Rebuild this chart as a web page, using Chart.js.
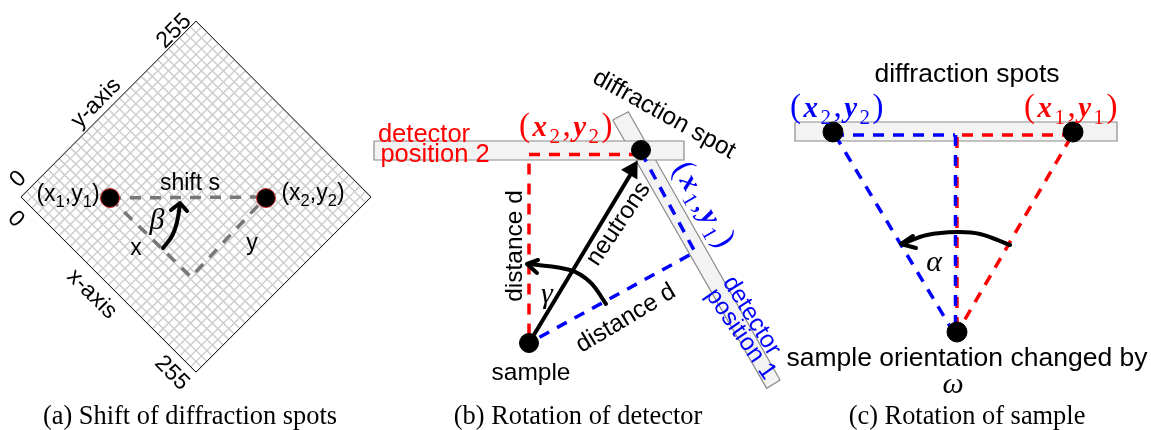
<!DOCTYPE html>
<html lang="en">
<head>
<meta charset="UTF-8">
<title>Diffraction spot geometry</title>
<script src="https://cdn.jsdelivr.net/npm/chart.js"></script>
<style>
    body { margin: 0; background: #fff; }
    #fig { display: block; }
</style>
</head>
<body>
<canvas id="fig" width="1151" height="430"></canvas>
<script>
// all marks are given in the figure's own coordinates (x 0-1151, y 0-430 downwards)

// (a) detector grid, ticks in detector pixels 0-255
const gridTicks = [0, 8, 15.9, 23.9, 31.9, 39.8, 47.8, 55.8, 63.8, 71.7, 79.7, 87.7, 95.6, 103.6, 111.6, 119.5,
    127.5, 135.5, 143.4, 151.4, 159.4, 167.3, 175.3, 183.3, 191.3, 199.2, 207.2, 215.2, 223.1, 231.1, 239.1, 247, 255];
const gridOutline = [[21, 197], [196, 21], [371, 197], [196, 372], [21, 197]];
const shiftLine = [[110, 198], [266, 197]];
const xyLegs = [[110, 198], [191, 277], [266, 197]];
const betaArc = [[163, 248], [172, 236], [177, 222], [180, 204]];
const betaHead = [[171, 210], [180, 203], [187, 211]];
const spotsA = [[110, 198], [266, 198]];

// (b) rotation of detector
const detector2 = [[374, 150.5], [684, 150.5]];
const detector2Box = [[374, 141], [684, 141], [684, 160], [374, 160], [374, 141]];
const detector1 = [[620.5, 116], [773.3, 384]];
const detector1Box = [[612.7, 120], [628.3, 111.7], [780, 380], [766.7, 388.3], [612.7, 120]];
const redPathB = [[640, 154.5], [529, 154.5], [529, 340]];
const bluePathB = [[641, 152], [695, 252], [529, 343]];
const neutronBeam = [[529, 343], [632, 172]];
const neutronHead = [[632, 170]];
const gammaArc = [[606, 304], [590, 282], [570, 270], [529, 264]];
const gammaHead = [[538, 260], [527, 264], [537, 273]];
const spotsB = [[641, 150], [529, 343]];

// (c) rotation of sample
const detector3 = [[795, 131.5], [1117, 131.5]];
const detector3Box = [[795, 122], [1117, 122], [1117, 141], [795, 141], [795, 122]];
const redArm = [[1073, 135], [957, 135]];
const redVert = [[957, 137], [957, 328]];
const redSlant = [[1071, 137], [960, 328]];
const blueArm = [[833, 135], [955, 135]];
const blueVert = [[955.5, 135], [955.5, 328]];
const blueSlant = [[835, 135], [951, 328]];
const alphaArc = [[1010, 245], [980, 234], [957, 232], [927, 235], [902, 244]];
const alphaHead = [[913, 236], [901, 244], [916, 248]];
const spotsC = [[833, 132], [1073, 132], [957, 332]];

// label texts, "_" puts the next character in subscript
const labelTexts = ['255', 'y-axis', '0', '0', 'x-axis', '255', '(x_1,y_1)', '(x_2,y_2)', 'shift s', 'β', 'x', 'y',
    'detector', 'position 2', '(x_2,y_2)', 'diffraction spot', '(x_1,y_1)', 'distance d', 'neutrons', 'γ',
    'distance d', 'sample', 'detector', 'position 1',
    'diffraction spots', '(x_2,y_2)', '(x_1,y_1)', 'α', 'sample orientation changed by', 'ω',
    '(a) Shift of diffraction spots', '(b) Rotation of detector', '(c) Rotation of sample'];
const labelX = [173, 95, 17, 17, 93, 173, 68, 313, 190, 157, 136, 252,
    424, 435, 567, 665, 705, 513, 617, 547, 625, 531, 753, 742,
    967, 838, 1072, 934, 967, 953,
    190, 578, 967];
const labelY = [30, 102, 178, 218, 293, 372, 193, 192, 182, 218, 247, 242,
    133, 153, 126, 113, 205, 246, 223, 292, 317, 371, 315, 333,
    73, 107, 107, 260, 357, 382,
    415, 415, 415];
const labelAngle = [-45, -45, -45, 45, 45, 45, 0, 0, 0, 0, 0, 0,
    0, 0, 0, 29, 60, -90, -56, 0, -31, 0, 58, 55,
    0, 0, 0, 0, 0, 0,
    0, 0, 0];
const labelStyle = ['axis', 'axis', 'axis', 'axis', 'axis', 'axis', 'axis', 'axis', 'axis', 'greek', 'axis', 'axis',
    'red', 'red', 'redMath', 'sans', 'blueMath', 'sans', 'sans', 'greek', 'sans', 'sans', 'blue', 'blue',
    'wide', 'blueMath', 'redMath', 'greek', 'wide', 'greek',
    'caption', 'caption', 'caption'];

const textStyles = {
    axis: { font: '23px "Liberation Sans"', color: '#000' },
    sans: { font: '24.5px "Liberation Sans"', color: '#000' },
    wide: { font: '26.5px "Liberation Sans"', color: '#000' },
    red: { font: '25.5px "Liberation Sans"', color: '#f00' },
    blue: { font: '24.5px "Liberation Sans"', color: '#00f' },
    redMath: { font: 'italic 700 29px "Liberation Serif"', paren: '33px "Liberation Serif"', sub: '21px "Liberation Serif"', gap: 2.5, color: '#f00' },
    blueMath: { font: 'italic 700 29px "Liberation Serif"', paren: '33px "Liberation Serif"', sub: '21px "Liberation Serif"', gap: 2.5, color: '#00f' },
    greek: { font: 'italic 30px "Liberation Serif"', color: '#000' },
    caption: { font: '26.4px "Liberation Serif"', color: '#000' }
};

const GREY = '#777777';
const line = (data, color, width, extra) => Object.assign(
    { data, showLine: true, borderColor: color, borderWidth: width, pointRadius: 0, fill: false }, extra);
const dashed = (data, color) => line(data, color, 3.5, { borderDash: [11, 9] });
const dots = (data, radius, ring) => ({
    data, showLine: false, pointRadius: radius, pointBackgroundColor: '#000',
    pointBorderColor: ring, pointBorderWidth: 1
});
const curve = (data) => line(data, '#000', 4, { tension: 0.4, borderCapStyle: 'round' });
const head = (data) => line(data, '#000', 4, { borderCapStyle: 'round', borderJoinStyle: 'round' });
const bar = (data, box, width) => [
    line(data, '#f3f3f3', width, {}),
    line(box, '#8a8a8a', 1.2, {})
];

// diamond grid: pixel ticks mapped onto the rotated detector
const toFigure = (a, b) => [21 + (a + b) * 175 / 255, 197 + (a - b) * 175.5 / 255];
const gridLines = [];
gridTicks.forEach(t => {
    gridLines.push(line([toFigure(t, 0), toFigure(t, 255)], '#cfcfcf', 1.5, {}));
    gridLines.push(line([toFigure(0, t), toFigure(255, t)], '#cfcfcf', 1.5, {}));
});

// listed bottom layer first
const layers = [
    ...gridLines,
    line(gridOutline, '#222', 1, {}),
    dashed(shiftLine, GREY), dashed(xyLegs, GREY),
    curve(betaArc), head(betaHead),
    dots(spotsA, 9.5, '#c33'),

    ...bar(detector1, detector1Box, 17), ...bar(detector2, detector2Box, 19),
    dashed(redPathB, '#f00'), dashed(bluePathB, '#00f'),
    line(neutronBeam, '#000', 4, {}),
    { data: neutronHead, showLine: false, pointStyle: 'triangle', pointRadius: 11, pointRotation: 31,
      pointBackgroundColor: '#000', pointBorderWidth: 0 },
    curve(gammaArc), head(gammaHead),
    dots(spotsB, 9.5, '#000'),

    ...bar(detector3, detector3Box, 19),
    dashed(redVert, '#f00'), dashed(blueVert, '#00f'),
    dashed(redArm, '#f00'), dashed(redSlant, '#f00'),
    dashed(blueArm, '#00f'), dashed(blueSlant, '#00f'),
    curve(alphaArc), head(alphaHead),
    dots(spotsC, 10, '#000')
];
layers.forEach((d, i) => { d.order = layers.length - i; });

// text runs along the baseline, "_" gives a subscript
function drawLabel(ctx, text, style) {
    const size = parseFloat(style.font.match(/([\d.]+)px/)[1]);
    const subFont = style.sub || style.font.replace(/[\d.]+px/, (size * 0.72) + 'px');
    ctx.fillStyle = style.color;
    ctx.textBaseline = 'alphabetic';
    ctx.textAlign = 'left';
    ctx.font = style.font;
    if (!text.includes('_')) {
        const w = ctx.measureText(text).width;
        ctx.fillText(text, -w / 2, size * 0.35);
        return;
    }
    const runs = [];
    for (let i = 0; i < text.length; i++) {
        if (text[i] === '_') { runs.push([text[i + 1], subFont, size * 0.24]); i++; }
        else if (style.paren && '(),'.includes(text[i])) { runs.push([text[i], style.paren, 0]); }
        else { runs.push([text[i], style.font, 0]); }
    }
    const gap = style.gap || 0;
    let total = 0;
    runs.forEach(([ch, font]) => { ctx.font = font; total += ctx.measureText(ch).width + gap; });
    let x = -total / 2;
    runs.forEach(([ch, font, drop]) => {
        ctx.font = font;
        ctx.fillText(ch, x, size * 0.35 + drop);
        x += ctx.measureText(ch).width + gap;
    });
}

const labelPlugin = {
    id: 'figureLabels',
    afterDatasetsDraw(chart) {
        const { ctx, scales } = chart;
        labelTexts.forEach((text, i) => {
            ctx.save();
            ctx.translate(scales.x.getPixelForValue(labelX[i]), scales.y.getPixelForValue(labelY[i]));
            ctx.rotate(labelAngle[i] * Math.PI / 180);
            drawLabel(ctx, text, textStyles[labelStyle[i]]);
            ctx.restore();
        });
    }
};

new Chart(document.getElementById('fig').getContext('2d'), {
    type: 'scatter',
    data: { datasets: layers },
    options: {
        responsive: false,
        animation: false,
        layout: { padding: 0, autoPadding: false },
        plugins: { legend: { display: false }, tooltip: { enabled: false } },
        scales: {
            x: { type: 'linear', display: false, min: 0, max: 1151 },
            y: { type: 'linear', display: false, min: 0, max: 430, reverse: true }
        }
    },
    plugins: [labelPlugin]
});
</script>
</body>
</html>
